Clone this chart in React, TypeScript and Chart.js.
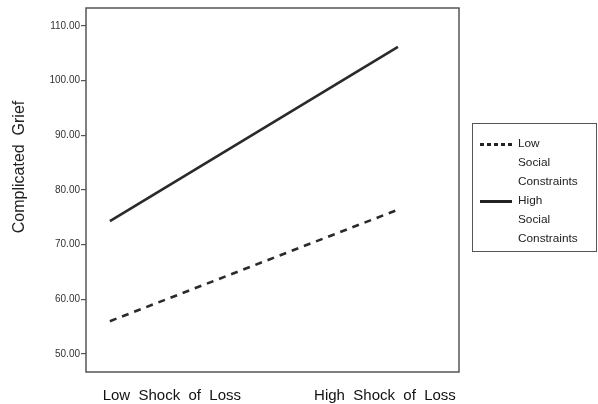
import React, { useEffect, useRef } from "react";
import { Chart, registerables } from "chart.js";

Chart.register(...registerables);

const categories = ["Low  Shock  of  Loss", "High  Shock  of  Loss"];
const categoryPositions = [0, 1];
const labelPositions = [0.215, 0.955];
const lowConstraints = [56.0, 76.4];
const highConstraints = [74.3, 106.2];
const seriesNames = [["Low", "Social", "Constraints"], ["High", "Social", "Constraints"]];
const yTicks = [50, 60, 70, 80, 90, 100, 110];

const FONT = "'Liberation Sans', Arial, sans-serif";

export default function App() {
  const ref = useRef<HTMLCanvasElement | null>(null);
  useEffect(() => {
    document.body.style.margin = "0";
    const ctx = ref.current!;
    const frame = {
      id: "frame",
      afterDraw(chart: any) {
        const { ctx, chartArea: a } = chart;
        ctx.save();
        ctx.strokeStyle = "#555";
        ctx.lineWidth = 1.5;
        ctx.strokeRect(a.left, a.top, a.right - a.left, a.bottom - a.top);
        ctx.fillStyle = "#222";
        ctx.font = `16px ${FONT}`;
        ctx.translate(20, 167);
        ctx.rotate(-Math.PI / 2);
        ctx.textAlign = "center";
        ctx.textBaseline = "middle";
        ctx.fillText("Complicated  Grief", 0, 0);
        ctx.restore();
      },
    };
    const chart = new Chart(ctx, {
      type: "line",
      data: {
        datasets: [
          {
            label: seriesNames[0].join(" "),
            data: categoryPositions.map((x, i) => ({ x, y: lowConstraints[i] })),
            borderColor: "#2a2a2a",
            borderWidth: 2.6,
            borderDash: [7, 6],
            pointRadius: 0,
            borderCapStyle: "butt",
          },
          {
            label: seriesNames[1].join(" "),
            data: categoryPositions.map((x, i) => ({ x, y: highConstraints[i] })),
            borderColor: "#2a2a2a",
            borderWidth: 2.6,
            pointRadius: 0,
          },
        ],
      },
      options: {
        animation: false,
        responsive: false,
        layout: { padding: { top: 8, right: 139, left: 0, bottom: 0 } },
        plugins: { legend: { display: false }, tooltip: { enabled: false } },
        scales: {
          x: {
            type: "linear",
            min: -0.083,
            max: 1.212,
            border: { display: false },
            grid: { display: false },
            afterBuildTicks: (scale: any) => {
              scale.ticks = labelPositions.map((v) => ({ value: v }));
            },
            afterFit: (scale: any) => {
              scale.height = 32;
            },
            ticks: {
              autoSkip: false,
              maxRotation: 0,
              padding: 7,
              color: "#111",
              font: { family: FONT, size: 15 },
              callback: (v: any) => {
                const i = labelPositions.indexOf(Number(v));
                return i >= 0 ? categories[i] : "";
              },
            },
          },
          y: {
            min: 46.7,
            max: 113.3,
            border: { display: false },
            grid: { drawOnChartArea: false, tickLength: 5, color: "#555", lineWidth: 1.2 },
            afterBuildTicks: (scale: any) => {
              scale.ticks = yTicks.map((v) => ({ value: v }));
            },
            afterFit: (scale: any) => {
              scale.width = 86;
            },
            ticks: {
              padding: 1,
              color: "#333",
              font: { family: FONT, size: 10 },
              callback: (v: any) => Number(v).toFixed(2),
            },
          },
        },
      },
      plugins: [frame],
    } as any);
    return () => chart.destroy();
  }, []);

  const legendLine = (dashed: boolean) => (
    <div
      style={{
        position: "absolute",
        left: 7,
        top: 9,
        width: 32,
        height: 2.5,
        background: dashed
          ? "repeating-linear-gradient(to right, #222 0px, #222 4px, transparent 4px, transparent 7px)"
          : "#222",
      }}
    />
  );

  return (
    <div style={{ position: "fixed", left: 0, top: 0, width: 598, height: 404, background: "#fff" }}>
      <canvas ref={ref} width={598} height={404} style={{ display: "block" }} />
      <div
        style={{
          position: "absolute",
          left: 472,
          top: 123,
          width: 125,
          height: 129,
          border: "1px solid #555",
          boxSizing: "border-box",
          fontFamily: FONT,
          fontSize: 11.8,
          color: "#222",
        }}
      >
        {seriesNames.map((lines, si) => (
          <div key={si} style={{ position: "absolute", left: 0, top: 10 + si * 57, width: 120, height: 57 }}>
            {legendLine(si === 0)}
            {lines.map((t, li) => (
              <div key={li} style={{ position: "absolute", left: 45, top: li * 19, lineHeight: "19px" }}>
                {t}
              </div>
            ))}
          </div>
        ))}
      </div>
    </div>
  );
}
